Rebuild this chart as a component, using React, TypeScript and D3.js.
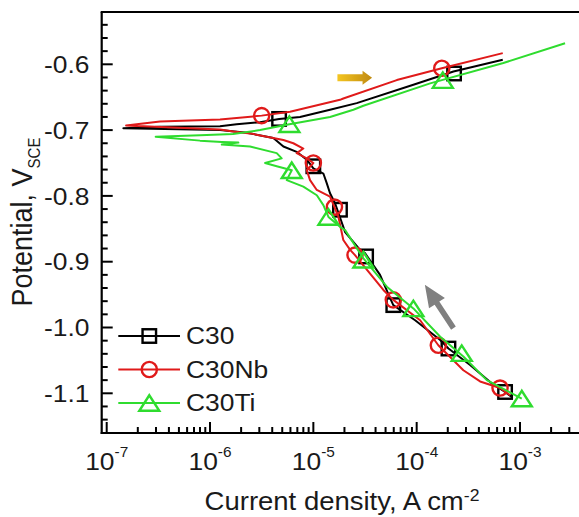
import React from 'react';
import * as d3 from 'd3';

const W = 579;
const H = 517;
const FONT = "'Liberation Sans', Arial, Helvetica, sans-serif";
const SX = 1.1;

// ---- tick labels ----
const yMajorTicks = [-0.6, -0.7, -0.8, -0.9, -1.0, -1.1];
const yTickLabels = ['-0.6', '-0.7', '-0.8', '-0.9', '-1.0', '-1.1'];
const xMajorTicks = [1e-7, 1e-6, 1e-5, 1e-4, 1e-3];
const xTickExponents = ['-7', '-6', '-5', '-4', '-3'];

// ---- series: [current density (A cm^-2), potential (V_SCE)] ----
const seriesNames = ['C30', 'C30Nb', 'C30Ti'];
const seriesColors = ['#000000', '#e01a1a', '#2fdc2f'];

const c30Data: [number, number][] = [
  [8.39e-4, -1.106], [7.17e-4, -1.098], [5.14e-4, -1.083], [3.29e-4, -1.057],
  [2.03e-4, -1.032], [1.69e-4, -1.019], [9.66e-5, -0.989], [5.94e-5, -0.966],
  [5.52e-5, -0.955], [4.42e-5, -0.920], [3.16e-5, -0.887], [2.83e-5, -0.882],
  [2.03e-5, -0.855], [1.75e-5, -0.826], [1.62e-5, -0.811], [1.45e-5, -0.796],
  [1.35e-5, -0.781], [1.25e-5, -0.766], [1.0e-5, -0.758], [8.63e-6, -0.745],
  [6.9e-6, -0.733], [5.13e-6, -0.725], [4.1e-6, -0.712], [2.27e-6, -0.704],
  [1.25e-6, -0.700], [1.45e-7, -0.697], [3.28e-7, -0.695], [1.25e-6, -0.694],
  [1.81e-6, -0.691], [3.05e-6, -0.688], [4.66e-6, -0.683], [7.43e-6, -0.680],
  [1.45e-5, -0.669], [2.63e-5, -0.659], [9.29e-5, -0.631], [2.27e-4, -0.611],
  [6.81e-4, -0.593],
];
const c30Markers: [number, number][] = [
  [4.66e-6, -0.683], [2.3e-4, -0.614], [1.0e-5, -0.755], [1.81e-5, -0.821],
  [3.24e-5, -0.892], [5.94e-5, -0.966], [2.03e-4, -1.032], [7.17e-4, -1.098],
];

const c30NbData: [number, number][] = [
  [8.02e-4, -1.103], [6.41e-4, -1.092], [4.11e-4, -1.082], [2.83e-4, -1.065],
  [1.62e-4, -1.027], [1.08e-4, -0.989], [5.94e-5, -0.958], [4.76e-5, -0.943],
  [3.54e-5, -0.918], [2.53e-5, -0.890], [2.27e-5, -0.882], [1.95e-5, -0.867],
  [1.75e-5, -0.832], [1.6e-5, -0.817], [1.45e-5, -0.801], [1.08e-5, -0.791],
  [9.29e-6, -0.776], [8.63e-6, -0.761], [1.0e-5, -0.750], [8.63e-6, -0.743],
  [6.9e-6, -0.735], [8.0e-6, -0.728], [6.4e-6, -0.720], [5.13e-6, -0.715],
  [3.54e-6, -0.710], [2.44e-6, -0.705], [1.68e-6, -0.702], [1.25e-6, -0.699],
  [1.54e-7, -0.693], [3.28e-7, -0.687], [1.25e-6, -0.684], [3.16e-6, -0.678],
  [5.95e-6, -0.672], [1.81e-5, -0.654], [1.95e-5, -0.652], [6.42e-5, -0.624],
  [1.75e-4, -0.606], [6.81e-4, -0.583],
];
const c30NbMarkers: [number, number][] = [
  [3.16e-6, -0.678], [1.75e-4, -0.606], [1.0e-5, -0.750], [1.6e-5, -0.817],
  [2.53e-5, -0.890], [5.94e-5, -0.958], [1.62e-4, -1.027], [6.41e-4, -1.092],
];

const c30TiData: [number, number][] = [
  [1.04e-3, -1.108], [4.77e-4, -1.080], [2.83e-4, -1.044], [1.69e-4, -1.014],
  [9.29e-5, -0.971], [5.14e-5, -0.938], [3.05e-5, -0.895], [2.03e-5, -0.852],
  [1.81e-5, -0.847], [1.4e-5, -0.832], [1.25e-5, -0.814], [1.08e-5, -0.799],
  [8.0e-6, -0.786], [5.53e-6, -0.776], [6.18e-6, -0.761], [4.42e-6, -0.755],
  [3.41e-6, -0.750], [4.94e-6, -0.743], [4.42e-6, -0.735], [2.44e-6, -0.725],
  [1.3e-6, -0.722], [1.88e-6, -0.719], [1.3e-6, -0.718], [8.0e-7, -0.716],
  [2.98e-7, -0.710], [8.0e-7, -0.708], [1.67e-6, -0.706], [3.05e-6, -0.700],
  [5.86e-6, -0.691], [1.45e-5, -0.680], [2.44e-5, -0.669], [3.05e-5, -0.663],
  [1.35e-4, -0.629], [6.9e-4, -0.598], [2.73e-3, -0.568],
];
const c30TiMarkers: [number, number][] = [
  [5.86e-6, -0.691], [1.79e-4, -0.624], [6.18e-6, -0.761], [1.4e-5, -0.832],
  [3.05e-5, -0.897], [9.29e-5, -0.971], [2.73e-4, -1.039], [1.04e-3, -1.108],
];

// ---- annotation arrows (data units): [from, to] ----
const anodicArrow: [number, number][] = [[1.71e-5, -0.6205], [3.7e-5, -0.6205]];
const cathodicArrow: [number, number][] = [[2.27e-4, -1.001], [1.2e-4, -0.935]];

// ---- layout ----
const PLOT_LEFT = 101.7;
const PLOT_TOP = 12;
const PLOT_BOTTOM = 433;
const PLOT_RIGHT = W + 10;

const x = d3.scaleLog().domain([1e-7, 1e-3]).range([106.7, 520]);
const y = d3.scaleLinear().domain([-0.6, -1.1]).range([64.3, 393.3]);

const line = d3
  .line<[number, number]>()
  .x((d) => x(d[0]))
  .y((d) => y(d[1]));

function Marker({ kind, cx, cy, color }: { kind: number; cx: number; cy: number; color: string }) {
  const sw = 2.4;
  if (kind === 0) {
    const s = 13.5;
    return <rect x={cx - s / 2} y={cy - s / 2} width={s} height={s} fill="none" stroke={color} strokeWidth={sw} />;
  }
  if (kind === 1) {
    return <circle cx={cx} cy={cy} r={7.6} fill="none" stroke={color} strokeWidth={sw} />;
  }
  const w = 20, h = 15.5;
  const pts = `${cx},${cy - h / 2} ${cx - w / 2},${cy + h / 2} ${cx + w / 2},${cy + h / 2}`;
  return <polygon points={pts} fill="none" stroke={color} strokeWidth={sw} strokeLinejoin="miter" />;
}

export default function App() {
  const series = [
    { data: c30Data, markers: c30Markers },
    { data: c30NbData, markers: c30NbMarkers },
    { data: c30TiData, markers: c30TiMarkers },
  ];

  // minor y ticks every 0.02
  const yMinor: number[] = [];
  for (let k = 27; k <= 57; k++) if (k % 5 !== 0) yMinor.push(-k / 50);
  // minor x ticks
  const xMinor: number[] = [];
  for (let e = -7; e <= -3; e++) {
    for (let m = 2; m <= 9; m++) {
      const v = m * Math.pow(10, e);
      if (x(v) < W) xMinor.push(v);
    }
  }

  // orange arrow geometry
  const oa0 = [x(anodicArrow[0][0]), y(anodicArrow[0][1])];
  const oa1 = [x(anodicArrow[1][0]), y(anodicArrow[1][1])];
  const headL = 9.5;
  const oaPts = [
    [oa0[0], oa0[1] - 3.5],
    [oa1[0] - headL, oa0[1] - 3.5],
    [oa1[0] - headL, oa0[1] - 7],
    [oa1[0], oa1[1]],
    [oa1[0] - headL, oa0[1] + 7],
    [oa1[0] - headL, oa0[1] + 3.5],
    [oa0[0], oa0[1] + 3.5],
  ]
    .map((p) => p.join(','))
    .join(' ');

  // gray arrow geometry
  const ga0 = [x(cathodicArrow[0][0]), y(cathodicArrow[0][1])];
  const ga1 = [x(cathodicArrow[1][0]), y(cathodicArrow[1][1])];
  const dx = ga1[0] - ga0[0], dy = ga1[1] - ga0[1];
  const len = Math.hypot(dx, dy);
  const ux = dx / len, uy = dy / len;
  const nx = -uy, ny = ux;
  const gHead = 22, gHalf = 9.5, gShaft = 2.8;
  const bx = ga1[0] - ux * gHead, by = ga1[1] - uy * gHead;
  const gaPts = [
    [ga0[0] + nx * gShaft, ga0[1] + ny * gShaft],
    [bx + nx * gShaft, by + ny * gShaft],
    [bx + nx * gHalf, by + ny * gHalf],
    [ga1[0], ga1[1]],
    [bx - nx * gHalf, by - ny * gHalf],
    [bx - nx * gShaft, by - ny * gShaft],
    [ga0[0] - nx * gShaft, ga0[1] - ny * gShaft],
  ]
    .map((p) => p.join(','))
    .join(' ');

  const legendRows = [336, 369.5, 403];

  return (
    <svg
      width={W}
      height={H}
      viewBox={`0 0 ${W} ${H}`}
      style={{ position: 'absolute', left: 0, top: 0, background: '#fff' }}
      fontFamily={FONT}
    >
      <defs>
        <linearGradient id="goldGrad" x1="0" x2="1" y1="0" y2="0">
          <stop offset="0%" stopColor="#f4c521" />
          <stop offset="100%" stopColor="#c08a10" />
        </linearGradient>
        <filter id="soft" x="-20%" y="-40%" width="140%" height="180%">
          <feGaussianBlur stdDeviation="0.6" />
        </filter>
        <clipPath id="plotClip">
          <rect x={PLOT_LEFT} y={PLOT_TOP} width={PLOT_RIGHT - PLOT_LEFT} height={PLOT_BOTTOM - PLOT_TOP} />
        </clipPath>
      </defs>

      {/* data */}
      <g clipPath="url(#plotClip)">
        {series.map((s, i) => (
          <g key={seriesNames[i]}>
            <path d={line(s.data) || ''} fill="none" stroke={seriesColors[i]} strokeWidth={2} strokeLinejoin="round" />
            {s.markers.map((m, j) => (
              <Marker key={j} kind={i} cx={x(m[0])} cy={y(m[1])} color={seriesColors[i]} />
            ))}
          </g>
        ))}
        <polygon points={oaPts} fill="url(#goldGrad)" filter="url(#soft)" />
        <polygon points={gaPts} fill="#808080" />
      </g>

      {/* axes frame */}
      <line x1={PLOT_LEFT} x2={PLOT_LEFT} y1={PLOT_TOP} y2={PLOT_BOTTOM + 1} stroke="#000" strokeWidth={2.2} />
      <line x1={PLOT_LEFT - 1} x2={PLOT_RIGHT} y1={PLOT_BOTTOM} y2={PLOT_BOTTOM} stroke="#000" strokeWidth={2.2} />
      <line x1={PLOT_LEFT - 1} x2={PLOT_RIGHT} y1={PLOT_TOP} y2={PLOT_TOP} stroke="#000" strokeWidth={2.2} />

      {/* y ticks */}
      {yMajorTicks.map((t) => (
        <line key={'ym' + t} x1={PLOT_LEFT} x2={PLOT_LEFT + 11} y1={y(t)} y2={y(t)} stroke="#000" strokeWidth={2} />
      ))}
      {yMinor.map((t) => (
        <line key={'yn' + t} x1={PLOT_LEFT} x2={PLOT_LEFT + 6} y1={y(t)} y2={y(t)} stroke="#000" strokeWidth={2} />
      ))}
      {yMajorTicks.map((t, i) => (
        <text
          key={'yl' + t}
          transform={`translate(89.5,${y(t) + 8.6}) scale(${SX},1)`}
          textAnchor="end"
          fontSize={24}
          fill="#1a1a1a"
        >
          {yTickLabels[i]}
        </text>
      ))}

      {/* x ticks */}
      {xMajorTicks.map((t) => (
        <line key={'xm' + t} x1={x(t)} x2={x(t)} y1={PLOT_BOTTOM} y2={PLOT_BOTTOM - 11} stroke="#000" strokeWidth={2} />
      ))}
      {xMinor.map((t) => (
        <line key={'xn' + t} x1={x(t)} x2={x(t)} y1={PLOT_BOTTOM} y2={PLOT_BOTTOM - 6} stroke="#000" strokeWidth={2} />
      ))}
      {xMajorTicks.map((t, i) => (
        <text
          key={'xl' + t}
          transform={`translate(${x(t)},470) scale(${SX},1)`}
          textAnchor="middle"
          fontSize={24}
          fill="#1a1a1a"
        >
          10
          <tspan fontSize={14} dy={-13.3}>
            {xTickExponents[i]}
          </tspan>
        </text>
      ))}

      {/* axis titles */}
      <text transform={`translate(342,510) scale(${SX},1)`} textAnchor="middle" fontSize={25} fill="#1a1a1a">
        Current density, A cm
        <tspan fontSize={16} dy={-9.5}>
          -2
        </tspan>
      </text>
      <text
        transform={`translate(31.7,222) scale(${SX},1) rotate(-90)`}
        textAnchor="middle"
        fontSize={27}
        fill="#1a1a1a"
      >
        Potential, V
        <tspan fontSize={15} dy={7.5}>
          SCE
        </tspan>
      </text>

      {/* legend */}
      {seriesNames.map((name, i) => (
        <g key={'lg' + name}>
          <line x1={118.3} x2={180} y1={legendRows[i]} y2={legendRows[i]} stroke={seriesColors[i]} strokeWidth={2} />
          <Marker kind={i} cx={149.3} cy={legendRows[i]} color={seriesColors[i]} />
          <text
            transform={`translate(186,${legendRows[i] + 8.3}) scale(${SX},1)`}
            fontSize={24}
            fill="#1a1a1a"
          >
            {name}
          </text>
        </g>
      ))}
    </svg>
  );
}
